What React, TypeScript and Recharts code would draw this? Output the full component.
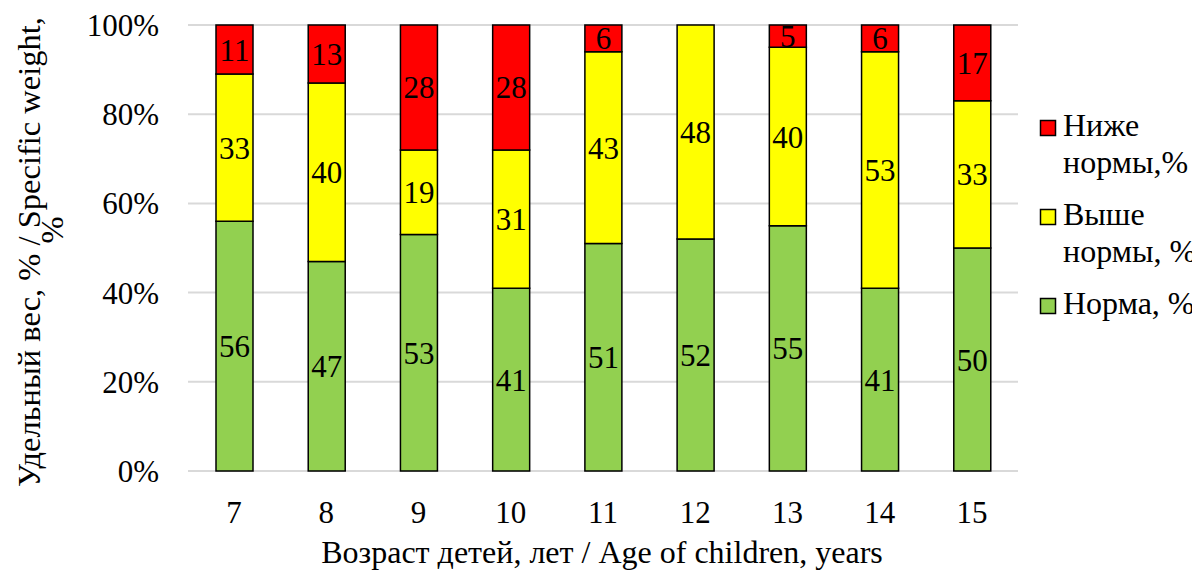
import React from "react";
import {
  BarChart,
  Bar,
  XAxis,
  YAxis,
  CartesianGrid,
  LabelList,
} from "recharts";

const ages = ["7", "8", "9", "10", "11", "12", "13", "14", "15"];
const normValues = [56, 47, 53, 41, 51, 52, 55, 41, 50];
const aboveValues = [33, 40, 19, 31, 43, 48, 40, 53, 33];
const belowValues = [11, 13, 28, 28, 6, 0, 5, 6, 17];
const yTicks = [0, 20, 40, 60, 80, 100];

const FONT = "'Liberation Serif', 'DejaVu Serif', serif";

const series = [
  { key: "norm", color: "#92d050", lines: ["Норма, %"] },
  { key: "above", color: "#ffff00", lines: ["Выше", "нормы, %"] },
  { key: "below", color: "#ff0000", lines: ["Ниже", "нормы,%"] },
];

const data = ages.map((age, i) => ({
  age,
  norm: normValues[i],
  above: aboveValues[i],
  below: belowValues[i],
}));

const ValueLabel = (props: any) => {
  const { x, y, width, height, value } = props;
  if (!value) return null;
  return (
    <text
      x={x + width / 2}
      y={y + height / 2 + 11}
      textAnchor="middle"
      style={{ fontFamily: FONT, fontSize: 31 }}
      fill="#000"
    >
      {value}
    </text>
  );
};

const XTick = ({ x, y, payload }: any) => (
  <text x={x} y={y + 50} textAnchor="middle" style={{ fontFamily: FONT, fontSize: 31 }} fill="#000">
    {payload.value}
  </text>
);

const YTick = ({ y, payload }: any) => (
  <text x={159} y={y + 11} textAnchor="end" style={{ fontFamily: FONT, fontSize: 31 }} fill="#000">
    {payload.value}%
  </text>
);

const YTitle = () => (
  <g style={{ fontFamily: FONT, fontSize: 32.5 }} fill="#000">
    <text transform="translate(40, 252) rotate(-90)" textAnchor="middle">
      Удельный вес, % / Specific weight,
    </text>
    <text transform="translate(63, 230) rotate(-90)" textAnchor="middle">
      %
    </text>
  </g>
);

const XTitle = () => (
  <text x={602} y={563} textAnchor="middle" style={{ fontFamily: FONT, fontSize: 32 }} fill="#000">
    Возраст детей, лет / Age of children, years
  </text>
);

// legend drawn on its own layer, top item = top of the stack
const LegendLayer = () => (
  <svg
    width={1192}
    height={572}
    style={{ position: "absolute", left: 0, top: 0, pointerEvents: "none" }}
  >
    {[...series].reverse().map((s, i) => {
      const base = 136 + i * 89;
      return (
        <g key={s.key}>
          <rect x={1040.5} y={base - 15.5} width={15} height={15} fill={s.color} stroke="#000" strokeWidth={1.5} />
          {s.lines.map((l, j) => (
            <text
              key={l}
              x={1063}
              y={base + j * 37}
              style={{ fontFamily: FONT, fontSize: 32 }}
              fill="#000"
            >
              {l}
            </text>
          ))}
        </g>
      );
    })}
  </svg>
);

export default function App() {
  return (
    <div
      style={{
        position: "absolute",
        left: 0,
        top: 0,
        width: 1192,
        height: 572,
        overflow: "hidden",
        background: "#fff",
      }}
    >
      <BarChart
        width={1192}
        height={572}
        data={data}
        margin={{ top: 25, right: 174, bottom: 0, left: 0 }}
      >
        <CartesianGrid horizontal vertical={false} stroke="#d9d9d9" strokeWidth={2} />
        <XAxis
          dataKey="age"
          height={101}
          axisLine={false}
          tickLine={false}
          tickSize={0}
          tick={<XTick />}
          interval={0}
          label={<XTitle />}
        />
        <YAxis
          width={188}
          domain={[0, 100]}
          ticks={yTicks}
          axisLine={false}
          tickLine={false}
          tickSize={0}
          tick={<YTick />}
          label={<YTitle />}
        />
        {series.map((s) => (
          <Bar
            key={s.key}
            dataKey={s.key}
            stackId="a"
            fill={s.color}
            stroke="#000"
            strokeWidth={1.5}
            barSize={37}
            isAnimationActive={false}
          >
            <LabelList dataKey={s.key} content={<ValueLabel />} />
          </Bar>
        ))}
      </BarChart>
      <LegendLayer />
    </div>
  );
}
